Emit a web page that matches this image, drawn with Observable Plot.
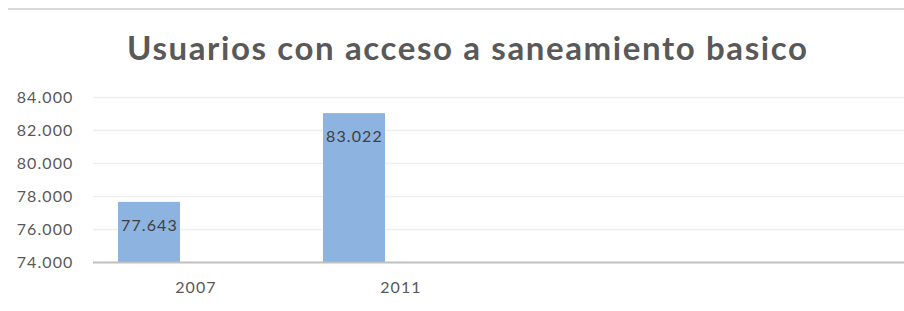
<!DOCTYPE html>
<html>
<head>
<meta charset="utf-8">
<script src="https://cdn.jsdelivr.net/npm/d3@7"></script>
<script src="https://cdn.jsdelivr.net/npm/@observablehq/plot@0.6"></script>
<style>
  html, body { margin: 0; padding: 0; background: #fff; }
  #wrap { position: relative; width: 904px; height: 311px; overflow: hidden; background: #fff; }
  #border { position: absolute; left: 8px; top: 7.5px; width: 896px; height: 2px; background: #d9d9d9; }
  #title { position: absolute; left: 127px; top: 31px; margin: 0; font-family: Lato, sans-serif; font-weight: 700;
           font-size: 33px; line-height: 33px; color: #595959; white-space: nowrap; }
  #chart { position: absolute; left: 0; top: 75px; }
</style>
</head>
<body>
<div id="wrap">
  <div id="border"></div>
  <div id="title"><span id="titleText">Usuarios con acceso a saneamiento basico</span></div>
  <div id="chart"></div>
</div>
<script>
const titleText = "Usuarios con acceso a saneamiento basico";
const years = ["2007", "2011"];
const users = [77643, 83022];
const yTicks = [74000, 76000, 78000, 80000, 82000, 84000];

const data = years.map((year, i) => ({year, value: users[i]}));
const fmt = v => d3.format(",")(v).replace(/,/g, ".");

// fit title width to reference
const span = document.getElementById("titleText");
span.textContent = titleText;
const w = span.getBoundingClientRect().width;
span.style.letterSpacing = ((680 - w) / (titleText.length - 1)) + "px";

const chart = Plot.plot({
  width: 904,
  height: 236,
  marginTop: 22,
  marginBottom: 49,
  marginLeft: 93,
  marginRight: 0,
  style: {fontFamily: "Lato, sans-serif", fontSize: "16px", color: "#595959", background: "transparent", letterSpacing: "1.1px"},
  x: {type: "band", domain: years, range: [93, 503], padding: 0},
  y: {domain: [74000, 84000]},
  marks: [
    Plot.ruleY(yTicks.slice(1), {stroke: "#eeeeee", strokeWidth: 1.5}),
    Plot.barY(data, {x: "year", y1: 74000, y2: "value", fill: "#8db4e0", insetLeft: 25, insetRight: 118}),
    Plot.ruleY([74000], {stroke: "#bfbfbf", strokeWidth: 2}),
    Plot.axisY({ticks: yTicks, tickSize: 0, tickPadding: 20, tickFormat: fmt, label: null, fill: "#595959"}),
    Plot.axisX({tickSize: 0, tickPadding: 19, label: null, fill: "#595959"}),
    Plot.text(data, {x: "year", y: "value", text: d => fmt(d.value), dx: -46.5, dy: 23.5, fill: "#404040"})
  ]
});
document.getElementById("chart").appendChild(chart);
</script>
</body>
</html>
